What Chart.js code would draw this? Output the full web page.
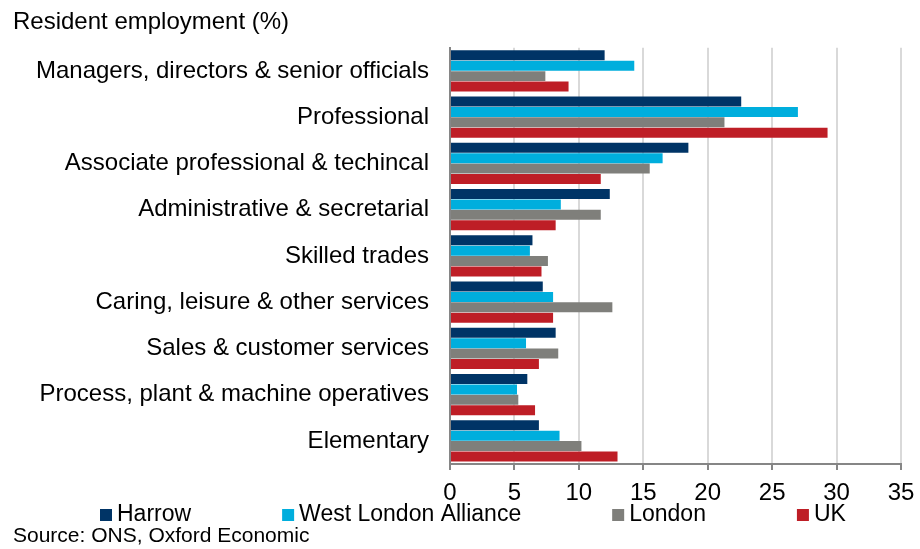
<!DOCTYPE html>
<html>
<head>
<meta charset="utf-8">
<script src="https://cdn.jsdelivr.net/npm/chart.js@4"></script>
<style>
  html, body { margin: 0; padding: 0; background: #fff; }
  #wrap { width: 920px; height: 549px; }
</style>
</head>
<body>
<div id="wrap"><canvas id="occChart" width="920" height="549"></canvas></div>
<script>
// Occupation groups (top to bottom)
const occupations = [
    'Managers, directors & senior officials',
    'Professional',
    'Associate professional & techincal',
    'Administrative & secretarial',
    'Skilled trades',
    'Caring, leisure & other services',
    'Sales & customer services',
    'Process, plant & machine operatives',
    'Elementary'
];

// Resident employment share, %
const harrow = [12.0, 22.6, 18.5, 12.4, 6.4, 7.2, 8.2, 6.0, 6.9];
const westLondon = [14.3, 27.0, 16.5, 8.6, 6.2, 8.0, 5.9, 5.2, 8.5];
const london = [7.4, 21.3, 15.5, 11.7, 7.6, 12.6, 8.4, 5.3, 10.2];
const uk = [9.2, 29.3, 11.7, 8.2, 7.1, 8.0, 6.9, 6.6, 13.0];

const xTicks = [0, 5, 10, 15, 20, 25, 30, 35];

const FONT = '"Liberation Sans", Arial, sans-serif';

// legend drawn by hand so the wide Excel-style spacing can be kept
const spacedLegend = {
    id: 'spacedLegend',
    afterDraw(chart) {
        const ctx = chart.ctx;
        const y = chart.scales.x.top + 51;
        let x = 100;
        ctx.save();
        ctx.font = `23px ${FONT}`;
        ctx.textBaseline = 'middle';
        ctx.textAlign = 'left';
        chart.data.datasets.forEach(ds => {
            ctx.fillStyle = ds.backgroundColor;
            ctx.fillRect(x, y - 6, 12, 12);
            ctx.fillStyle = '#000';
            ctx.fillText(ds.label, x + 17, y);
            x += 17 + ctx.measureText(ds.label).width + 91;
        });
        ctx.restore();
    }
};

new Chart(document.getElementById('occChart').getContext('2d'), {
    type: 'bar',
    data: {
        labels: occupations,
        datasets: [
            { label: 'Harrow', data: harrow, backgroundColor: '#003466' },
            { label: 'West London Alliance', data: westLondon, backgroundColor: '#00AEDD' },
            { label: 'London', data: london, backgroundColor: '#7F7F7B' },
            { label: 'UK', data: uk, backgroundColor: '#BE1E26' }
        ]
    },
    options: {
        indexAxis: 'y',
        responsive: false,
        animation: false,
        datasets: {
            bar: { categoryPercentage: 0.9, barPercentage: 0.96 }
        },
        layout: { padding: { left: 13, right: 0, top: 0, bottom: 0 } },
        scales: {
            x: {
                min: 0, max: 35,
                afterBuildTicks: scale => { scale.ticks = xTicks.map(v => ({ value: v })); },
                afterFit: scale => { scale.paddingRight = 19; },
                grid: { color: '#d9d9d9', lineWidth: 2, tickColor: '#868686', tickLength: 6 },
                border: { color: '#868686', width: 2 },
                ticks: { color: '#000', padding: 9, font: { family: FONT, size: 24 } }
            },
            y: {
                grid: { display: false, drawTicks: false },
                border: { color: '#868686', width: 2 },
                ticks: { color: '#000', padding: 21, font: { family: FONT, size: 24 } },
                afterFit: scale => { scale.width = 437; }
            }
        },
        plugins: {
            legend: { display: false },
            tooltip: { enabled: false },
            title: {
                display: true,
                text: 'Resident employment (%)',
                align: 'start',
                color: '#000',
                font: { family: FONT, size: 24, weight: 'normal' },
                padding: { top: 8, bottom: 11 }
            },
            subtitle: {
                display: true,
                position: 'bottom',
                text: 'Source: ONS, Oxford Economic',
                align: 'start',
                color: '#000',
                font: { family: FONT, size: 21, weight: 'normal' },
                padding: { top: 7, bottom: 0 }
            }
        }
    },
    plugins: [spacedLegend]
});
</script>
</body>
</html>
